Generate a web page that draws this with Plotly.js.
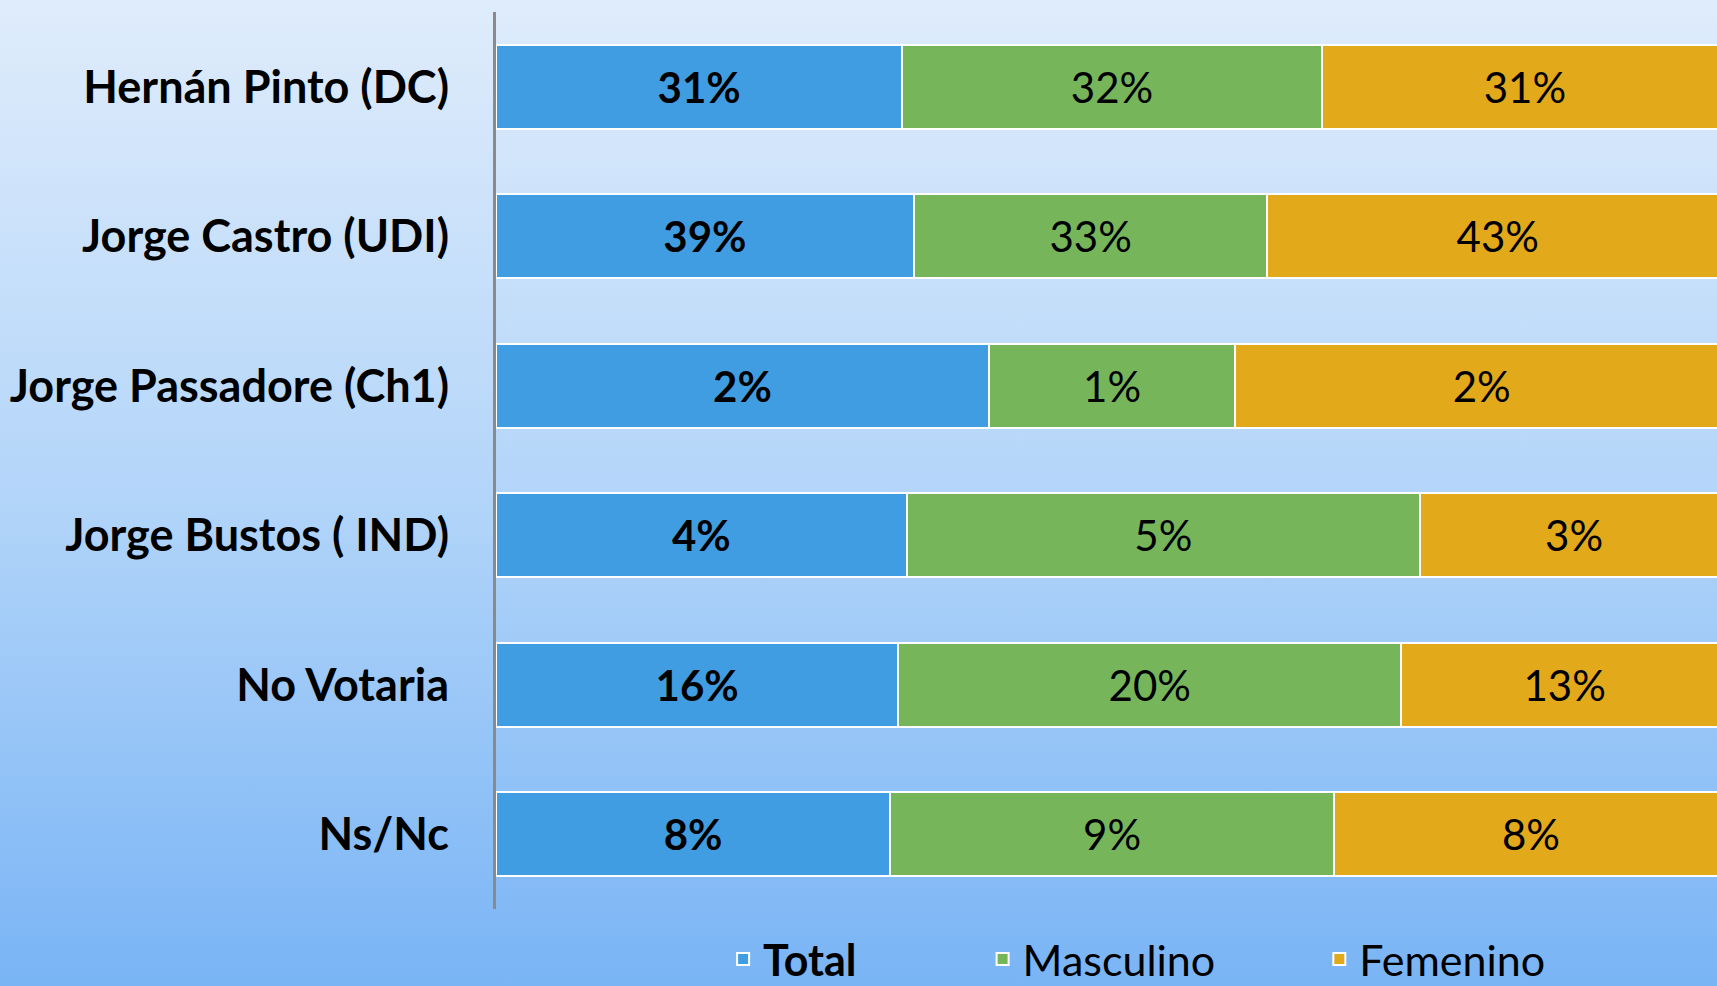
<!DOCTYPE html>
<html>
<head>
<meta charset="utf-8">
<script src="https://cdn.plot.ly/plotly-3.0.1.min.js"></script>
<style>
  html, body { margin: 0; padding: 0; width: 1717px; height: 986px; overflow: hidden; }
  body { background: linear-gradient(180deg, #dfecfb 0%, #b3d5f9 50%, #79b4f5 100%); }
  #chart { width: 1717px; height: 986px; }
</style>
</head>
<body>
<div id="chart"></div>
<script>
const categories = ['Hernán Pinto (DC)', 'Jorge Castro (UDI)', 'Jorge Passadore (Ch1)', 'Jorge Bustos ( IND)', 'No Votaria', 'Ns/Nc'];
const seriesNames = ['<b>Total</b>', 'Masculino', 'Femenino'];
const totalValues = [31, 39, 2, 4, 16, 8];
const masculinoValues = [32, 33, 1, 5, 20, 9];
const femeninoValues = [31, 43, 2, 3, 13, 8];

const FONT = 'Lato, Carlito, Calibri, "Open Sans", sans-serif';
const colors = ['#419de2', '#77b55a', '#e2a91a'];
const seriesValues = [totalValues, masculinoValues, femeninoValues];
// trailing non-breaking spaces to reproduce the uneven legend spacing of the original
const legendPad = [11, 9, 0];

const traces = seriesValues.map((vals, i) => ({
  type: 'bar',
  orientation: 'h',
  name: seriesNames[i] + '\u00a0'.repeat(legendPad[i]),
  y: categories,
  x: vals,
  text: vals.map(v => i === 0 ? '<b>' + v + '%</b>' : v + '%'),
  textposition: 'inside',
  insidetextanchor: 'middle',
  textangle: 0,
  textfont: { family: FONT, size: 42, color: '#000000' },
  marker: { color: colors[i], line: { color: '#ffffff', width: 2 } },
  hoverinfo: 'none'
}));

const layout = {
  width: 1717,
  height: 986,
  paper_bgcolor: 'rgba(0,0,0,0)',
  plot_bgcolor: 'rgba(0,0,0,0)',
  barmode: 'stack',
  barnorm: 'percent',
  bargap: 0.44,
  margin: { l: 496, r: 0, t: 12, b: 77, autoexpand: false },
  font: { family: FONT, color: '#000000' },
  xaxis: {
    range: [0, 99.1],
    showgrid: false,
    zeroline: false,
    showticklabels: false,
    showline: false,
    fixedrange: true
  },
  yaxis: {
    type: 'category',
    autorange: 'reversed',
    showgrid: false,
    zeroline: false,
    showline: true,
    linecolor: '#8a8a8a',
    linewidth: 3,
    ticks: '',
    ticklabelstandoff: 35,
    tickfont: { family: FONT, size: 45, color: '#000000', weight: 'bold' },
    fixedrange: true
  },
  showlegend: true,
  legend: {
    orientation: 'h',
    x: 0.186,
    xanchor: 'left',
    y: -0.0557,
    yanchor: 'middle',
    font: { family: FONT, size: 43, color: '#000000' },
    bgcolor: 'rgba(0,0,0,0)',
    traceorder: 'normal'
  }
};

Plotly.newPlot('chart', traces, layout, { displayModeBar: false, staticPlot: true });
</script>
</body>
</html>
